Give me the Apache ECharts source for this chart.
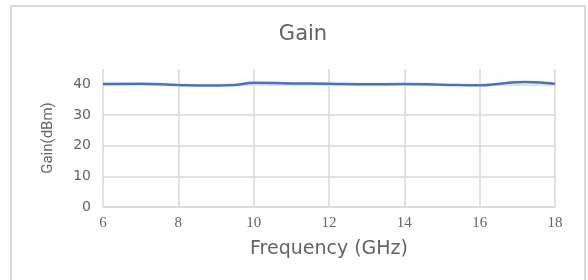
<!DOCTYPE html>
<html>
<head>
<meta charset="utf-8">
<script src="https://cdn.jsdelivr.net/npm/echarts@6/dist/echarts.min.js"></script>
<style>
  body { margin: 0; background: #fff; }
  #wrap { position: relative; width: 588px; height: 280px; overflow: hidden; }
  #frame { position: absolute; left: 10px; top: 5px; width: 576px; height: 290px; border: 2px solid #d9d9d9; box-sizing: border-box; }
  #chart { position: absolute; left: 0; top: 0; width: 588px; height: 280px; }
</style>
</head>
<body>
<div id="wrap">
  <div id="frame"></div>
  <div id="chart"></div>
</div>
<script>
// frequency (GHz) and gain (dBm)
const freq = [6, 7, 8, 8.7, 9.5, 10, 11, 12, 13, 14, 15, 16, 16.6, 17.2, 18]
const gain = [40.1, 40.2, 39.8, 39.6, 39.8, 40.5, 40.3, 40.2, 40.0, 40.1, 39.9, 39.7, 40.3, 40.8, 40.2]

const points = freq.map((f, i) => [f, gain[i]])

const chart = echarts.init(document.getElementById('chart'))
chart.setOption({
  animation: false,
  title: {
    text: 'Gain',
    left: 298,
    textAlign: 'center',
    top: 19,
    textStyle: { fontFamily: 'DejaVu Sans', fontWeight: 'normal', fontSize: 21, color: '#646464' }
  },
  grid: { left: 103, right: 33, top: 69, bottom: 73 },
  xAxis: {
    type: 'value',
    min: 6,
    max: 18,
    interval: 2,
    name: 'Frequency (GHz)',
    nameLocation: 'middle',
    nameGap: 33,
    nameTextStyle: { fontFamily: 'DejaVu Sans', fontSize: 19, color: '#646464' },
    axisLine: { show: true, lineStyle: { color: '#d9d9d9', width: 1.5 } },
    axisTick: { show: false },
    axisLabel: { margin: 9, fontFamily: 'Liberation Serif', fontSize: 15, color: '#646464' },
    splitLine: { show: true, lineStyle: { color: '#d9d9d9', width: 1.5 } }
  },
  yAxis: {
    type: 'value',
    min: 0,
    max: 45,
    interval: 10,
    name: 'Gain(dBm)',
    nameLocation: 'middle',
    nameGap: 47,
    nameTextStyle: { fontFamily: 'Roboto', fontSize: 15, color: '#646464' },
    axisLine: { show: false },
    axisTick: { show: false },
    axisLabel: { margin: 12, showMaxLabel: false, fontFamily: 'DejaVu Sans', fontSize: 14, color: '#646464' },
    splitLine: { show: true, showMaxLine: false, lineStyle: { color: '#d9d9d9', width: 1.5 } }
  },
  series: [
    {
      type: 'line',
      data: points,
      smooth: true,
      symbol: 'none',
      lineStyle: { color: '#4472c4', width: 2.5 }
    }
  ]
})
</script>
</body>
</html>
